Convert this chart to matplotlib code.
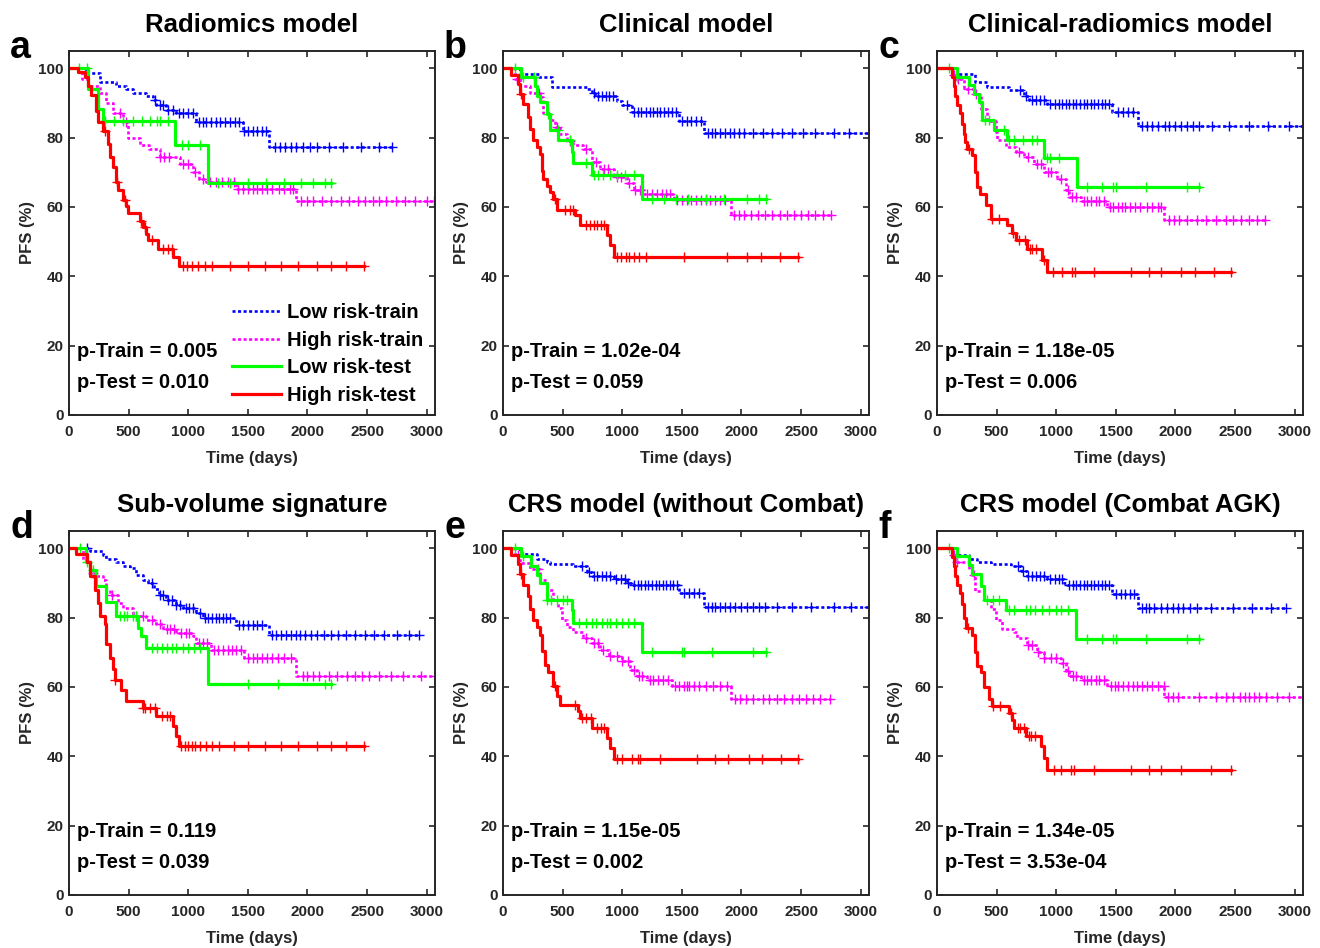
import numpy as np
import matplotlib.pyplot as plt

plt.rcParams['font.family'] = ['Liberation Sans', 'DejaVu Sans']
plt.rcParams['font.weight'] = 'bold'

# panel texts
titles = ['Radiomics model', 'Clinical model', 'Clinical-radiomics model',
          'Sub-volume signature', 'CRS model (without Combat)', 'CRS model (Combat AGK)']
letters = ['a', 'b', 'c', 'd', 'e', 'f']
p_train = ['0.005', '1.02e-04', '1.18e-05', '0.119', '1.15e-05', '1.34e-05']
p_test = ['0.010', '0.059', '0.006', '0.039', '0.002', '3.53e-04']
labels = ['Low risk-train', 'High risk-train', 'Low risk-test', 'High risk-test']

# each curve: (event times, survival after event in %, censor times)
# panel a
a_ltr = ([145, 257, 397, 480, 536, 647, 703, 731, 815, 898, 1066, 1457, 1680],
         [98.6, 96, 95, 94, 93, 92, 91, 89.3, 88, 87.2, 84.6, 82, 77.3],
         [720, 760, 790, 830, 870, 920, 960, 1000, 1040, 1090, 1120, 1150, 1190, 1230, 1270, 1310,
          1350, 1390, 1430, 1470, 1500, 1540, 1580, 1620, 1650, 1730, 1770, 1810, 1860, 1900, 1960,
          2020, 2080, 2180, 2300, 2450, 2600, 2712])
a_htr = ([107, 160, 257, 312, 368, 452, 494, 592, 675, 760, 927, 1038, 1094, 1150, 1401, 1903],
         [97, 95, 93, 90, 87, 84.5, 80, 78, 76.8, 74.4, 72.5, 70, 68, 67.2, 65.1, 61.7],
         [430, 480, 760, 800, 840, 960, 1000, 1060, 1120, 1180, 1230, 1280, 1330, 1380, 1420, 1460,
          1500, 1540, 1580, 1620, 1660, 1700, 1760, 1800, 1850, 1880, 1950, 2000, 2050, 2120, 2200,
          2280, 2350, 2420, 2480, 2550, 2600, 2660, 2740, 2820, 2900, 3000, 3065])
a_lte = ([160, 243, 285, 885, 1164],
         [94, 88.3, 84.9, 78, 66.9],
         [80, 150, 300, 380, 450, 540, 610, 680, 740, 760, 830, 950, 1000, 1100, 1250, 1350, 1500,
          1650, 1800, 1950, 2050, 2150, 2196])
a_hte = ([75, 131, 159, 187, 229, 243, 285, 327, 341, 369, 397, 410, 452, 480, 494, 592, 620, 647,
          661, 745, 870, 926],
         [98.8, 97.5, 95, 92.3, 87.8, 84.5, 82, 78.2, 74.4, 71.5, 67.2, 64.8, 62.1, 60.2, 58.3, 56.1,
          54.2, 52.3, 50.4, 48, 45.6, 42.9],
         [300, 400, 470, 600, 640, 700, 790, 830, 860, 960, 990, 1030, 1080, 1140, 1200, 1350, 1500,
          1640, 1780, 1920, 2080, 2200, 2320, 2475])

# panel b
b_ltr = ([140, 300, 407, 702, 744, 772, 955, 997, 1081, 1475, 1685],
         [98.5, 97.5, 94.7, 94, 93, 92, 90.7, 89.5, 87.3, 84.9, 81.3],
         [760, 800, 830, 860, 890, 920, 1040, 1100, 1130, 1160, 1200, 1230, 1260, 1290, 1320, 1350,
          1380, 1420, 1450, 1500, 1540, 1580, 1620, 1660, 1720, 1750, 1780, 1820, 1860, 1900, 1940,
          1980, 2020, 2100, 2180, 2260, 2340, 2420, 2520, 2620, 2780, 2900, 3070])
b_htr = ([98, 140, 225, 309, 337, 393, 435, 478, 534, 590, 674, 744, 815, 927, 1039, 1096, 1180,
          1433, 1910],
         [97, 95, 93, 91.6, 87, 85, 83, 81, 79, 78, 76.8, 73, 71, 68.6, 67, 64.8, 63.8, 61.9, 57.6],
         [120, 300, 450, 560, 700, 780, 850, 880, 960, 990, 1060, 1110, 1150, 1210, 1250, 1290, 1330,
          1370, 1400, 1460, 1500, 1540, 1580, 1620, 1660, 1700, 1740, 1780, 1820, 1860, 1940, 1980,
          2020, 2080, 2140, 2200, 2260, 2320, 2380, 2440, 2500, 2560, 2620, 2680, 2753])
b_lte = ([155, 267, 281, 309, 365, 393, 463, 576, 590, 744, 1166],
         [97.4, 95, 92.1, 90.2, 86.9, 82.2, 79.2, 75.8, 72.6, 69.1, 62.2],
         [100, 170, 260, 380, 460, 560, 700, 760, 800, 840, 900, 960, 1020, 1100, 1250, 1350, 1450,
          1550, 1700, 1850, 2050, 2150, 2205])
b_hte = ([70, 126, 140, 169, 211, 225, 253, 281, 309, 323, 337, 365, 393, 421, 449, 604, 646, 871,
          899, 927],
         [98, 95.5, 92.6, 89.7, 85.9, 82.5, 79.2, 77.3, 75.3, 70.5, 68.1, 66.2, 64.3, 62.4, 59.2, 57.6,
          54.9, 51.8, 48.9, 45.6],
         [150, 440, 520, 560, 590, 700, 730, 760, 790, 820, 850, 960, 990, 1030, 1060, 1100, 1140,
          1200, 1520, 1880, 2050, 2160, 2320, 2472])

# panel c
c_ltr = ([168, 322, 420, 603, 729, 771, 925, 1472, 1683],
         [98.5, 96.2, 94.7, 93.8, 92.1, 90.9, 89.6, 87.3, 83.5],
         [700, 750, 800, 830, 860, 900, 950, 990, 1020, 1050, 1080, 1110, 1140, 1170, 1200, 1230, 1260,
          1290, 1320, 1350, 1380, 1410, 1440, 1520, 1560, 1600, 1640, 1720, 1760, 1800, 1850, 1910,
          1950, 2000, 2050, 2100, 2150, 2200, 2310, 2450, 2620, 2780, 2950, 3070])
c_htr = ([126, 154, 224, 308, 365, 421, 491, 505, 575, 659, 729, 813, 897, 1009, 1079, 1108, 1206,
          1430, 1907],
         [98, 97, 94, 92.6, 88.3, 84.9, 81.6, 79.2, 77.3, 76, 74.4, 72.5, 70.1, 68.1, 64.8, 62.9, 61.6,
          60, 56.3],
         [140, 180, 260, 330, 690, 760, 840, 870, 930, 960, 1040, 1100, 1130, 1170, 1230, 1260, 1290,
          1330, 1360, 1400, 1450, 1480, 1520, 1550, 1580, 1620, 1660, 1700, 1760, 1800, 1850, 1880,
          1950, 1990, 2030, 2100, 2180, 2260, 2340, 2420, 2480, 2550, 2620, 2680, 2748])
c_lte = ([168, 266, 308, 350, 379, 477, 589, 897, 1178],
         [97.6, 95.2, 92.6, 90.2, 85.1, 82.2, 79.2, 74.2, 65.9],
         [100, 170, 400, 440, 560, 600, 650, 720, 800, 840, 920, 950, 1020, 1260, 1380, 1480, 1500,
          1750, 2100, 2201])
c_hte = ([126, 140, 154, 168, 196, 210, 224, 238, 252, 294, 322, 336, 364, 407, 449, 589, 631, 659,
          757, 883, 925],
         [97.5, 95, 92, 89.4, 87, 84, 81, 78.7, 76.8, 75, 70, 65.9, 63.8, 60.5, 56.6, 54.7, 52.5, 50.6,
          48, 44.8, 41.3],
         [270, 460, 520, 640, 690, 740, 780, 800, 830, 900, 970, 1050, 1130, 1160, 1320, 1630, 1780,
          1880, 2050, 2160, 2320, 2468])

# panel d
d_ltr = ([173, 285, 313, 396, 452, 508, 564, 619, 661, 717, 759, 815, 898, 954, 1066, 1122, 1401,
          1680],
         [99.2, 98.1, 97, 96.2, 95, 94.2, 92.3, 91, 89.9, 88.3, 86.6, 85.1, 83.7, 82.7, 81.3, 79.8,
          77.9, 75],
         [150, 700, 760, 790, 830, 860, 900, 930, 980, 1010, 1040, 1100, 1140, 1170, 1200, 1230, 1260,
          1290, 1320, 1350, 1430, 1460, 1500, 1540, 1580, 1620, 1700, 1740, 1780, 1820, 1860, 1900,
          1940, 1980, 2030, 2080, 2140, 2200, 2260, 2320, 2400, 2480, 2560, 2640, 2750, 2850, 2935])
d_htr = ([117, 173, 229, 285, 313, 340, 410, 452, 536, 647, 731, 787, 898, 1038, 1066, 1191, 1471,
          1903],
         [96.6, 93, 92, 90.9, 88, 86.6, 84.2, 82.7, 80.5, 79.2, 78.2, 76.7, 75.5, 74.6, 72.6, 70.7,
          68.5, 63.2],
         [200, 360, 560, 620, 700, 760, 820, 850, 880, 940, 980, 1010, 1090, 1120, 1160, 1220, 1250,
          1290, 1330, 1370, 1400, 1440, 1500, 1540, 1580, 1620, 1660, 1700, 1750, 1800, 1860, 1960,
          2000, 2050, 2100, 2180, 2250, 2330, 2400, 2460, 2520, 2600, 2700, 2800, 2950, 3070])
d_lte = ([145, 173, 229, 313, 396, 578, 606, 647, 1164],
         [96.2, 93.8, 89.2, 84.6, 80.5, 77, 74.6, 71.2, 60.9],
         [90, 150, 200, 430, 460, 490, 540, 560, 700, 740, 780, 820, 860, 900, 960, 1000, 1050, 1100,
          1500, 1750, 2150, 2196])
d_hte = ([61, 151, 173, 215, 243, 257, 299, 313, 340, 368, 382, 438, 480, 619, 731, 870, 898, 926],
         [98.4, 96.2, 92, 88, 84.2, 80.5, 78.2, 72.5, 68.3, 65.2, 62.1, 59.2, 56.1, 53.9, 51.5, 48.7,
          46, 43.1],
         [390, 620, 640, 680, 720, 780, 820, 850, 940, 970, 1000, 1030, 1060, 1100, 1150, 1200, 1260,
          1380, 1500, 1640, 1780, 1920, 2080, 2200, 2320, 2475])

# panel e
e_ltr = ([140, 281, 365, 393, 590, 702, 744, 927, 1039, 1081, 1475, 1685],
         [98.4, 97, 96.2, 95.5, 94.9, 93.3, 92, 91.1, 89.9, 89.4, 87, 83.2],
         [660, 720, 760, 790, 830, 860, 900, 950, 990, 1020, 1050, 1100, 1130, 1160, 1190, 1220, 1250,
          1280, 1310, 1340, 1370, 1400, 1430, 1460, 1520, 1560, 1600, 1640, 1720, 1750, 1780, 1820,
          1860, 1900, 1950, 2000, 2050, 2100, 2150, 2200, 2300, 2420, 2580, 2780, 2920, 3070])
e_htr = ([98, 140, 225, 309, 365, 421, 463, 492, 534, 590, 674, 744, 815, 885, 997, 1067, 1124, 1208,
          1418, 1910],
         [98, 95.7, 94, 90.9, 88, 85.1, 82.7, 79.4, 77.4, 76, 74.1, 72.6, 70.7, 68.8, 67.4, 65, 63.1,
          62.1, 60.2, 56.5],
         [130, 290, 700, 760, 800, 840, 900, 960, 1000, 1050, 1100, 1140, 1170, 1230, 1260, 1300, 1340,
          1380, 1440, 1480, 1520, 1540, 1560, 1600, 1640, 1700, 1760, 1820, 1880, 1950, 1990, 2040,
          2100, 2180, 2230, 2300, 2360, 2420, 2480, 2540, 2600, 2660, 2739])
e_lte = ([155, 239, 281, 309, 365, 576, 590, 1166],
         [97.8, 94.9, 92.3, 89.9, 85.1, 82.2, 78.6, 70],
         [100, 170, 370, 400, 450, 500, 540, 640, 700, 750, 780, 830, 870, 900, 950, 1000, 1050, 1100,
          1250, 1500, 1520, 1750, 2100, 2205])
e_hte = ([70, 126, 140, 169, 211, 225, 253, 281, 309, 323, 351, 379, 421, 449, 478, 632, 646, 744,
          871, 899, 927],
         [98, 95.5, 92.5, 89.4, 86.3, 82.5, 79.4, 77.2, 75.1, 70.4, 66.4, 64.2, 60.4, 57.3, 54.9, 53,
          51.1, 48.2, 45.3, 42.4, 39.1],
         [150, 440, 600, 660, 700, 740, 790, 820, 850, 960, 1000, 1080, 1130, 1150, 1320, 1630, 1780,
          1890, 2060, 2170, 2330, 2472])

# panel f
f_ltr = ([168, 266, 336, 449, 617, 701, 757, 925, 1066, 1094, 1472, 1683],
         [98.2, 97, 96.2, 95.5, 94.8, 93.6, 92.1, 91.1, 89.9, 89.3, 86.8, 82.7],
         [680, 720, 760, 800, 830, 860, 900, 950, 990, 1020, 1050, 1110, 1140, 1170, 1200, 1230, 1260,
          1290, 1320, 1350, 1380, 1410, 1440, 1500, 1540, 1580, 1620, 1650, 1720, 1750, 1780, 1820,
          1880, 1930, 1980, 2020, 2060, 2120, 2180, 2300, 2480, 2640, 2800, 2930])
f_htr = ([126, 154, 266, 294, 322, 393, 449, 491, 547, 645, 673, 757, 841, 897, 1037, 1079, 1108,
          1206, 1430, 1907],
         [98, 96.2, 94.1, 92.3, 87.8, 85.1, 82.5, 79.4, 76.8, 75.8, 74.1, 72.2, 70.2, 68.5, 66.9, 64.5,
          63.1, 62.1, 60.2, 57],
         [140, 170, 310, 760, 800, 850, 900, 960, 1000, 1060, 1100, 1140, 1170, 1230, 1260, 1290, 1330,
          1360, 1400, 1460, 1490, 1520, 1560, 1600, 1640, 1680, 1720, 1760, 1800, 1850, 1900, 1940,
          1980, 2020, 2200, 2340, 2420, 2480, 2540, 2580, 2620, 2660, 2700, 2760, 2850, 2950, 3070])
f_lte = ([168, 266, 294, 365, 393, 575, 1164],
         [97.8, 95.2, 92.6, 89, 85.1, 82.2, 73.8],
         [100, 170, 420, 470, 520, 600, 650, 750, 780, 820, 880, 940, 1000, 1040, 1100, 1260, 1380,
          1480, 1500, 1750, 2100, 2201])
f_hte = ([126, 140, 154, 168, 196, 210, 224, 247, 294, 322, 336, 365, 393, 435, 463, 603, 631, 645,
          743, 869, 897, 925],
         [97.5, 95, 92, 89.5, 87, 84, 80, 77, 74.9, 70, 66, 64.2, 60, 56.5, 54.6, 52.5, 50.6, 48.2, 46,
          42.9, 39.5, 36],
         [260, 470, 530, 620, 680, 700, 730, 770, 790, 820, 980, 1040, 1120, 1150, 1320, 1630, 1780,
          1880, 2050, 2300, 2468])

panels = [
    [a_ltr, a_htr, a_lte, a_hte],
    [b_ltr, b_htr, b_lte, b_hte],
    [c_ltr, c_htr, c_lte, c_hte],
    [d_ltr, d_htr, d_lte, d_hte],
    [e_ltr, e_htr, e_lte, e_hte],
    [f_ltr, f_htr, f_lte, f_hte],
]

colors = ['#0000ff', '#ff00ff', '#00ff00', '#ff0000']
styles = [(0, (1.15, 0.95)), (0, (1.15, 0.95)), '-', '-']
widths = [1.9, 1.9, 2.3, 2.3]
dark = '#262626'

W, H = 1320, 948
fig = plt.figure(figsize=(W / 100, H / 100), dpi=100)

lefts = [69, 503, 937]
tops = [51, 531]
aw, ah = 366, 364

for k in range(6):
    row, col = divmod(k, 3)
    x0, y0 = lefts[col], tops[row]
    ax = fig.add_axes([x0 / W, 1 - (y0 + ah) / H, aw / W, ah / H])

    for j, (t, s, c) in enumerate(panels[k]):
        t = np.array(t, dtype=float)
        s = np.array(s, dtype=float)
        c = np.array(c, dtype=float)
        end = c.max()
        xs = np.concatenate([[0], t, [end]])
        ys = np.concatenate([[100], s, [s[-1]]])
        ax.step(xs, ys, where='post', color=colors[j], lw=widths[j],
                linestyle=styles[j], label=labels[j], dash_capstyle='butt')
        surv = np.concatenate([[100], s])[np.searchsorted(t, c, side='right')]
        ax.plot(c, surv, linestyle='none', marker='+', ms=6.5, mew=1.0, color=colors[j])

    ax.set_xlim(0, 3070)
    ax.set_ylim(0, 105)
    ax.set_xticks(np.arange(0, 3001, 500))
    ax.set_yticks(np.arange(0, 101, 20))
    ax.tick_params(direction='in', top=True, right=True, length=4, width=1.2,
                   colors=dark, labelsize=11, labelcolor=dark)
    ax.tick_params(axis='x', pad=7.5)
    ax.tick_params(axis='y', pad=4)
    for lab in ax.get_xticklabels() + ax.get_yticklabels():
        lab.set_fontweight('bold')
    for sp in ax.spines.values():
        sp.set_color(dark)
        sp.set_linewidth(1.4)
    ax.set_xlabel('Time (days)', fontsize=12, fontweight='bold', color=dark, labelpad=8.5)
    ax.set_ylabel('PFS (%)', fontsize=12, fontweight='bold', color=dark, labelpad=2)
    ax.set_title(titles[k], fontsize=18.5, fontweight='bold', pad=14)

    ax.text(0.022, 0.175, 'p-Train = ' + p_train[k], transform=ax.transAxes,
            fontsize=14.5, fontweight='bold', va='center', ha='left')
    ax.text(0.022, 0.088, 'p-Test = ' + p_test[k], transform=ax.transAxes,
            fontsize=14.5, fontweight='bold', va='center', ha='left')

    fig.text((x0 - 59) / W, 1 - (y0 + 7) / H, letters[k], fontsize=27,
             fontweight='bold', ha='left', va='baseline')

    if k == 0:
        ax.legend(loc='lower right', bbox_to_anchor=(1.0, -0.005), frameon=False,
                  fontsize=14.5, handlelength=2.4, handletextpad=0.3, labelspacing=0.42,
                  borderaxespad=0.2)

fig.savefig('out.png', dpi=100)
